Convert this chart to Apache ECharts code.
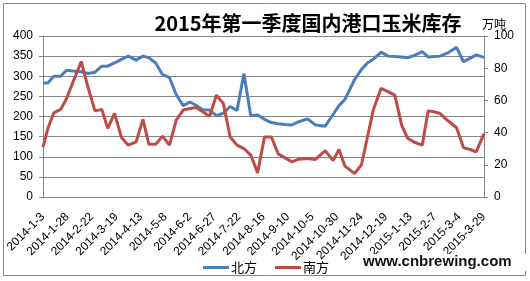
<!DOCTYPE html>
<html>
<head>
<meta charset="utf-8">
<script src="https://cdn.jsdelivr.net/npm/echarts@6/dist/echarts.min.js"></script>
<style>
html,body{margin:0;padding:0;background:#fff;}
#chart{width:530px;height:281px;}
</style>
</head>
<body>
<div id="chart"></div>
<script>
const dates = ['2014-1-3','2014-1-8','2014-1-14','2014-1-21','2014-1-27','2014-2-3','2014-2-11','2014-2-18','2014-2-25','2014-3-4',
 '2014-3-10','2014-3-17','2014-3-24','2014-3-31','2014-4-8','2014-4-15','2014-4-21','2014-4-28','2014-5-5','2014-5-12',
 '2014-5-19','2014-5-26','2014-6-2','2014-6-8','2014-6-15','2014-6-22','2014-6-29','2014-7-6','2014-7-13','2014-7-20',
 '2014-7-27','2014-8-3','2014-8-10','2014-8-17','2014-8-24','2014-8-31','2014-9-7','2014-9-14','2014-9-21','2014-9-30',
 '2014-10-8','2014-10-18','2014-10-26','2014-11-1','2014-11-7','2014-11-17','2014-11-24','2014-11-30','2014-12-6','2014-12-14',
 '2014-12-21','2014-12-28','2015-1-4','2015-1-10','2015-1-17','2015-1-25','2015-1-31','2015-2-6','2015-2-12','2015-2-20',
 '2015-3-1','2015-3-8','2015-3-15','2015-3-21','2015-3-29'];
// 北方 (left axis, 万吨)
const north = [283,283,300,300,315,313,311,307,310,325,
 325,333,342,350,340,350,346,333,304,297,
 254,227,236,228,217,216,202,208,225,215,
 307,202,204,193,185,182,180,179,187,194,
 179,176,205,227,242,292,317,333,342,360,
 350,349,348,346,352,361,348,349,350,358,
 372,336,345,353,347];
// 南方 (right axis, 万吨)
const south = [31,42.6,52.3,54.4,61,72,84.2,68,53.5,54.4,
 42.6,51.9,37,32.2,34.2,48.2,32.8,32.8,37.8,32.2,
 47.7,54,55,55.6,52.9,50.2,63.3,58.1,37.3,32.2,
 30.1,26,15,37.3,37.3,26.8,24.3,21.8,23.5,23.9,
 23.3,28.8,22.6,29.6,19.2,14.6,20,37,54,67.5,
 65.5,63.3,44.6,36.5,34,32.2,53.5,53,51.9,47.5,
 43,30.7,29.5,28,39.4];
const seriesNames = ['北方','南方'];
const titleText = '2015年第一季度国内港口玉米库存';
const unitText = '万吨';
const watermark = 'www.cnbrewing.com';
const xStart = '2014-1-3', xEnd = '2015-3-29', xStepDays = 25;
const leftMax = 400, leftStep = 50, rightMax = 100, rightStep = 20;

function toUTC(s){const p=s.split('-').map(Number);return Date.UTC(p[0],p[1]-1,p[2]);}
const base = toUTC(xStart);
function dayOf(s){return Math.round((toUTC(s)-base)/86400000);}
function fmtDay(v){const d=new Date(base+v*86400000);return d.getUTCFullYear()+'-'+(d.getUTCMonth()+1)+'-'+d.getUTCDate();}

const FONT = "'Liberation Sans', 'Noto Sans CJK SC', sans-serif";
const CJK = "'Noto Sans CJK SC', sans-serif";
const gridColor = '#868686';

const chart = echarts.init(document.getElementById('chart'), null, {renderer:'canvas'});
chart.setOption({
  backgroundColor:'#fff',
  animation:false,
  title:{text:titleText,left:303,textAlign:'center',top:8,
    textStyle:{fontFamily:CJK,fontSize:20,fontWeight:'bold',color:'#000'}},
  legend:{left:198,top:256,itemWidth:26,itemHeight:3,itemGap:18,
    icon:'rect',
    textStyle:{fontFamily:CJK,fontSize:13,color:'#000',padding:[0,0,0,-3]},
    data:seriesNames},
  grid:{left:43,right:46,top:36,bottom:84,containLabel:false},
  xAxis:{type:'value',min:0,max:dayOf(xEnd),interval:xStepDays,
    axisLine:{show:true,lineStyle:{color:gridColor,width:1}},
    axisTick:{show:false},splitLine:{show:false},
    axisLabel:{rotate:45,margin:18,fontFamily:FONT,fontSize:12,color:'#000',
      showMinLabel:true,showMaxLabel:true,formatter:fmtDay}},
  yAxis:[
    {type:'value',min:0,max:leftMax,interval:leftStep,position:'left',
     axisLine:{show:true,lineStyle:{color:gridColor}},
     axisTick:{show:true,length:4,lineStyle:{color:gridColor}},
     splitLine:{show:true,lineStyle:{color:gridColor,width:1}},
     axisLabel:{margin:10,fontFamily:FONT,fontSize:12,color:'#000'}},
    {type:'value',min:0,max:rightMax,interval:rightStep,position:'right',
     name:unitText,nameLocation:'end',nameGap:6,
     nameTextStyle:{fontFamily:CJK,fontSize:12,color:'#000',align:'center',padding:[0,0,0,20]},
     axisLine:{show:true,lineStyle:{color:gridColor}},
     axisTick:{show:true,length:4,lineStyle:{color:gridColor}},
     splitLine:{show:false},
     axisLabel:{margin:10,fontFamily:FONT,fontSize:12,color:'#000'}}
  ],
  series:[
    {name:seriesNames[0],type:'line',yAxisIndex:0,symbol:'none',
     color:'#4A7EBB',lineStyle:{width:3,color:'#4A7EBB'},
     data:dates.map((d,i)=>[dayOf(d),north[i]])},
    {name:seriesNames[1],type:'line',yAxisIndex:1,symbol:'none',
     color:'#BE4B48',lineStyle:{width:3,color:'#BE4B48'},
     data:dates.map((d,i)=>[dayOf(d),south[i]])}
  ],
  graphic:[
    {type:'rect',z:-1,silent:true,shape:{x:3.5,y:3.5,width:522,height:272},
     style:{fill:'none',stroke:'#888',lineWidth:1}},
    {type:'rect',z:10,silent:true,shape:{x:358,y:254,width:172,height:17},
     style:{fill:'#fff'}},
    {type:'text',z:11,silent:true,x:363,y:262,
     style:{text:watermark,font:"bold 15px 'Liberation Sans', sans-serif",fill:'#111',textVerticalAlign:'middle'}}
  ]
});
</script>
</body>
</html>
